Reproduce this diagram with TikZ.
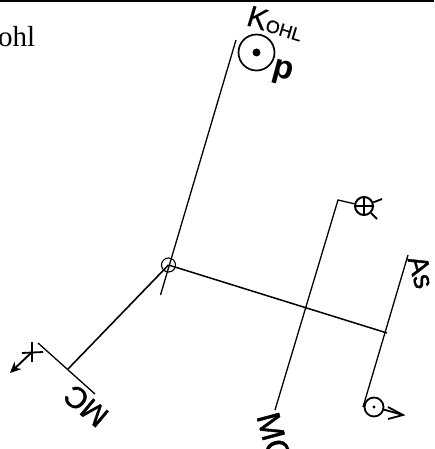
\documentclass[tikz,border=0pt]{standalone}
\usepackage{fontspec}
\usetikzlibrary{arrows.meta}
\setmainfont{Liberation Serif}
\setsansfont{Liberation Sans}
\newfontfamily\labfont[FakeBold=1.2]{Liberation Sans}
\newfontfamily\kfont[FakeBold=0.4]{Liberation Sans}
\tikzset{
 ln/.style={line width=1.3pt,black},
 sym/.style={line width=1.8pt,black},
 lab/.style={inner sep=0pt},
}
\begin{document}
\begin{tikzpicture}[x=1pt,y=-1pt]
\useasboundingbox (0,0) rectangle (434,449);
\clip (0,0) rectangle (434,449);
\draw[line width=1.5pt] (0,0.8) -- (434,0.8);
\node[inner sep=0pt,anchor=base east,font=\fontsize{29}{30}\selectfont] (ohl) at (35.5,47) {ohl};
% centre and main lines
\coordinate (c) at (168.5,265);
\coordinate (kt) at (236,40);
\coordinate (kb) at (160.5,295);
\coordinate (j) at (387,333);
\coordinate (mt) at (338,200);
\coordinate (mb) at (275,410);
\coordinate (at) at (408,255);
\coordinate (ab) at (363,407);
\coordinate (la) at (38,343);
\coordinate (lb) at (95,394);
\coordinate (lm) at (68,369);
\node[circle,draw,line width=1.1pt,minimum size=14pt,inner sep=0pt] (cn) at (c) {};
\draw[ln] (kt) -- (kb);
\draw[line width=1.5pt] (c) -- (j);
\draw[line width=1.6pt] (c) -- (lm);
\draw[ln] (la) -- (lb);
\draw[ln] (at) -- (ab);
% Kohl
\node[circle,draw,line width=1.7pt,minimum size=36pt,inner sep=0pt] (ks) at (256.5,52.5) {};
\fill (ks.center) circle (4);
\node[lab,rotate=-17,font=\kfont\fontsize{18}{18}\selectfont] (kl) at (275.5,23.5) {{\fontsize{30}{30}\selectfont K}OHL};
\node[lab,rotate=-15,font=\sffamily\bfseries\fontsize{33}{33}\selectfont] (pl) at (283,73) {p};
% MC line with symbol
\node[circle,draw,line width=2pt,minimum size=18pt,inner sep=0pt] (ms) at (364,206) {};
\draw[ln] (mb) -- (mt) -- (ms);
\draw[line width=1.3pt] (ms.north)--(ms.south) (ms.west)--(ms.east);
\coordinate (r1) at (382,199);
\coordinate (r2) at (377,219);
\draw[sym] (ms) -- (r1);
\draw[sym] (ms) -- (r2);
% As symbol
\node[circle,draw,line width=1.8pt,minimum size=19pt,inner sep=0pt] (as) at (374,407) {};
\fill (as.center) circle (1.6);
\coordinate (at2) at (403,415);
\coordinate (b1) at (388,407);
\coordinate (b2) at (388,419);
\draw[sym] (as) ++(9.6,2.5) -- (at2);
\draw[sym] (b1) -- (at2) -- (b2);
% left symbol
\coordinate (st) at (32,352);
\coordinate (sb) at (10,373);
\draw[line width=1.9pt,-{Stealth[length=11pt,width=10pt]}] (st) -- (sb);
\draw[sym] (22,353) -- (43,352);
\draw[line width=2.6pt] (32,342) -- (32,362);
% labels
\node[lab,rotate=-74,font=\labfont\fontsize{28}{28}\selectfont] (asl) at (421,272) {As};
\node[lab,rotate=-75,font=\labfont\fontsize{33}{33}\selectfont] (mc2) at (274,438) {MC};
\node[lab,rotate=140,font=\labfont\fontsize{30}{30}\selectfont] (mc1) at (86,406) {MC};
\end{tikzpicture}
\end{document}
